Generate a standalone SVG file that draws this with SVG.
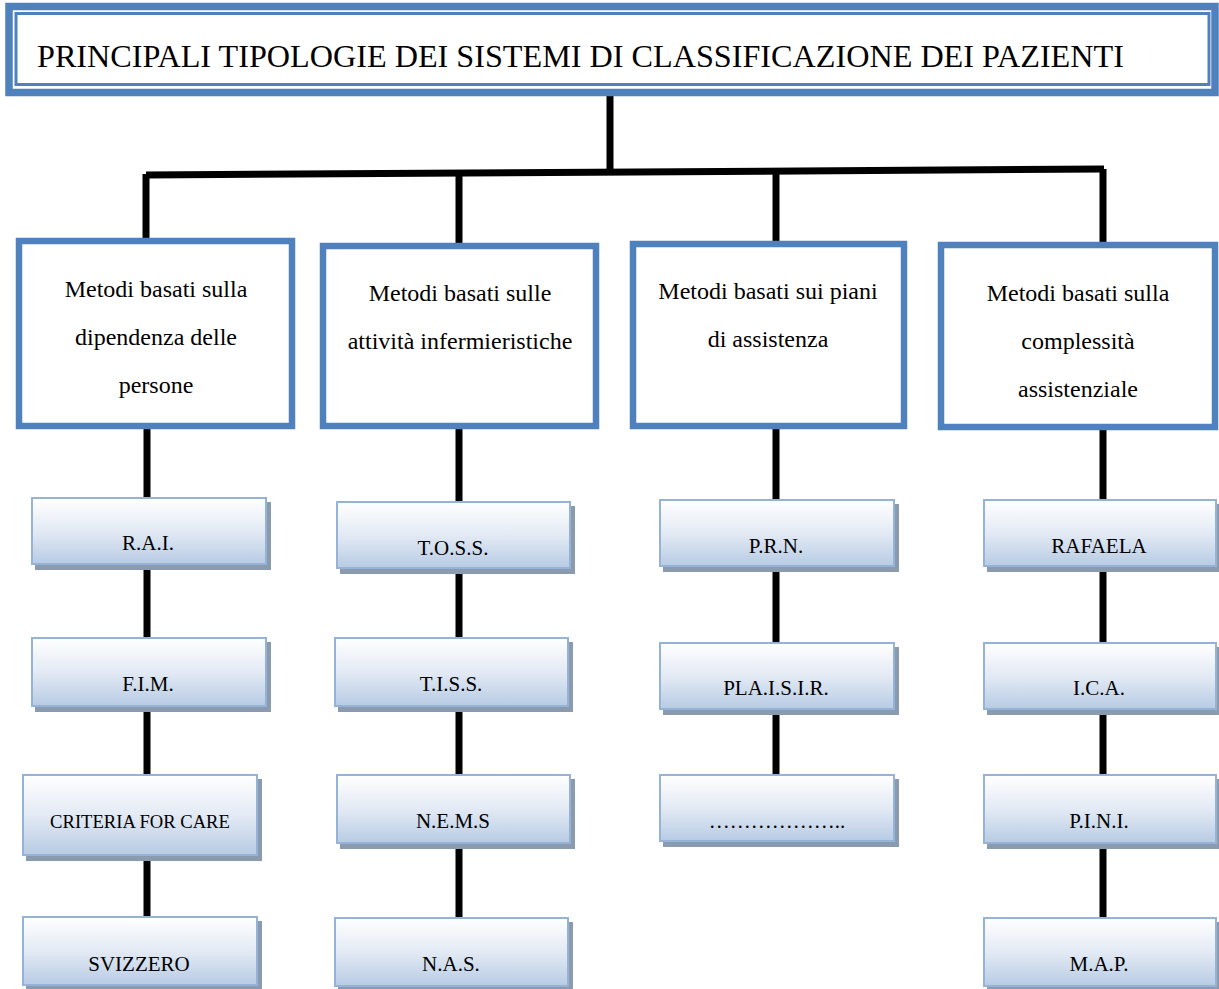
<svg xmlns="http://www.w3.org/2000/svg" width="1219" height="989" viewBox="0 0 1219 989">
  <defs>
    <linearGradient id="leafFill" x1="0" y1="0" x2="0" y2="1">
      <stop offset="0" stop-color="#FFFFFF"/>
      <stop offset="0.5" stop-color="#E3EAF4"/>
      <stop offset="1" stop-color="#B7CBE4"/>
    </linearGradient>
  </defs>
  <style>
    text { font-family: "Liberation Serif", "Times New Roman", serif; fill: #000; text-anchor: middle; }
    .title { font-size: 32.2px; text-anchor: start; }
    .cat-box { fill: #FFFFFF; stroke: #4F81BD; stroke-width: 6.5; }
    .cat-text { font-size: 24px; }
    .leaf-shadow { fill: #8A9AAF; }
    .leaf-box { fill: url(#leafFill); stroke: #95B3D7; stroke-width: 2; }
    .leaf-text { font-size: 21px; }
    .link { stroke: #000; stroke-width: 7; fill: none; }
  </style>

  <rect width="1219" height="989" fill="#FFFFFF"/>

  <!-- connectors (drawn first so the boxes sit on top) -->
  <g id="connectors">
    <line class="link" x1="610" y1="96" x2="610" y2="170"/>
    <line class="link" x1="146" y1="175" x2="1104" y2="169"/>
    <line class="link" x1="146" y1="174" x2="146" y2="242"/>
    <line class="link" x1="459" y1="172" x2="459" y2="245"/>
    <line class="link" x1="776" y1="171" x2="776" y2="243"/>
    <line class="link" x1="1103" y1="169" x2="1103" y2="243"/>
    <line class="link" x1="147" y1="428" x2="147" y2="918"/>
    <line class="link" x1="459" y1="428" x2="459" y2="918"/>
    <line class="link" x1="776" y1="428" x2="776" y2="776"/>
    <line class="link" x1="1103" y1="428" x2="1103" y2="918"/>
  </g>

  <!-- title -->
  <g id="title">
    <rect x="9" y="6.5" width="1206" height="86" fill="#FFFFFF" stroke="#4F81BD" stroke-width="7.5"/>
    <rect x="16" y="13.5" width="1193" height="71" fill="none" stroke="#4F81BD" stroke-width="3"/>
    <text class="title" x="37" y="67">PRINCIPALI TIPOLOGIE DEI SISTEMI DI CLASSIFICAZIONE DEI PAZIENTI</text>
  </g>

  <!-- method categories -->
  <g id="cat-dipendenza">
    <rect class="cat-box" x="19" y="241" width="273" height="185"/>
    <text class="cat-text" x="156" y="297">Metodi basati sulla</text>
    <text class="cat-text" x="156" y="345">dipendenza delle</text>
    <text class="cat-text" x="156" y="393">persone</text>
  </g>
  <g id="cat-attivita">
    <rect class="cat-box" x="323" y="246" width="273" height="180"/>
    <text class="cat-text" x="460" y="301">Metodi basati sulle</text>
    <text class="cat-text" x="460" y="349">attività infermieristiche</text>
  </g>
  <g id="cat-piani">
    <rect class="cat-box" x="633" y="244" width="271" height="182"/>
    <text class="cat-text" x="768" y="299">Metodi basati sui piani</text>
    <text class="cat-text" x="768" y="347">di assistenza</text>
  </g>
  <g id="cat-complessita">
    <rect class="cat-box" x="941" y="245" width="274" height="182"/>
    <text class="cat-text" x="1078" y="301">Metodi basati sulla</text>
    <text class="cat-text" x="1078" y="349">complessità</text>
    <text class="cat-text" x="1078" y="397">assistenziale</text>
  </g>

  <!-- column 1 -->
  <g id="rai">
    <rect class="leaf-shadow" x="35" y="502" width="236" height="68"/>
    <rect class="leaf-box" x="32" y="498" width="234" height="66"/>
    <text class="leaf-text" x="148" y="550">R.A.I.</text>
  </g>
  <g id="fim">
    <rect class="leaf-shadow" x="35" y="642" width="236" height="70"/>
    <rect class="leaf-box" x="32" y="638" width="234" height="68"/>
    <text class="leaf-text" x="148" y="691">F.I.M.</text>
  </g>
  <g id="criteria">
    <rect class="leaf-shadow" x="26" y="779" width="236" height="82"/>
    <rect class="leaf-box" x="23" y="775" width="234" height="80"/>
    <text class="leaf-text" x="140" y="828" style="font-size:18.6px">CRITERIA FOR CARE</text>
  </g>
  <g id="svizzero">
    <rect class="leaf-shadow" x="26" y="921" width="236" height="70"/>
    <rect class="leaf-box" x="23" y="917" width="234" height="68"/>
    <text class="leaf-text" x="139" y="971">SVIZZERO</text>
  </g>

  <!-- column 2 -->
  <g id="toss">
    <rect class="leaf-shadow" x="340" y="506" width="235" height="68"/>
    <rect class="leaf-box" x="337" y="502" width="233" height="66"/>
    <text class="leaf-text" x="453" y="555">T.O.S.S.</text>
  </g>
  <g id="tiss">
    <rect class="leaf-shadow" x="338" y="642" width="235" height="70"/>
    <rect class="leaf-box" x="335" y="638" width="233" height="68"/>
    <text class="leaf-text" x="451" y="691">T.I.S.S.</text>
  </g>
  <g id="nems">
    <rect class="leaf-shadow" x="340" y="779" width="235" height="70"/>
    <rect class="leaf-box" x="337" y="775" width="233" height="68"/>
    <text class="leaf-text" x="453" y="828">N.E.M.S</text>
  </g>
  <g id="nas">
    <rect class="leaf-shadow" x="338" y="922" width="235" height="70"/>
    <rect class="leaf-box" x="335" y="918" width="233" height="68"/>
    <text class="leaf-text" x="451" y="971">N.A.S.</text>
  </g>

  <!-- column 3 -->
  <g id="prn">
    <rect class="leaf-shadow" x="663" y="504" width="236" height="68"/>
    <rect class="leaf-box" x="660" y="500" width="234" height="66"/>
    <text class="leaf-text" x="776" y="553">P.R.N.</text>
  </g>
  <g id="plaisir">
    <rect class="leaf-shadow" x="663" y="647" width="236" height="68"/>
    <rect class="leaf-box" x="660" y="643" width="234" height="66"/>
    <text class="leaf-text" x="776" y="695">PLA.I.S.I.R.</text>
  </g>
  <g id="altro">
    <rect class="leaf-shadow" x="663" y="779" width="236" height="68"/>
    <rect class="leaf-box" x="660" y="775" width="234" height="66"/>
    <text class="leaf-text" x="777" y="828">………………..</text>
  </g>

  <!-- column 4 -->
  <g id="rafaela">
    <rect class="leaf-shadow" x="987" y="504" width="232" height="68"/>
    <rect class="leaf-box" x="984" y="500" width="232" height="66"/>
    <text class="leaf-text" x="1099" y="553">RAFAELA</text>
  </g>
  <g id="ica">
    <rect class="leaf-shadow" x="987" y="647" width="232" height="68"/>
    <rect class="leaf-box" x="984" y="643" width="232" height="66"/>
    <text class="leaf-text" x="1099" y="695">I.C.A.</text>
  </g>
  <g id="pini">
    <rect class="leaf-shadow" x="987" y="779" width="232" height="70"/>
    <rect class="leaf-box" x="984" y="775" width="232" height="68"/>
    <text class="leaf-text" x="1099" y="828">P.I.N.I.</text>
  </g>
  <g id="map">
    <rect class="leaf-shadow" x="987" y="922" width="232" height="70"/>
    <rect class="leaf-box" x="984" y="918" width="232" height="68"/>
    <text class="leaf-text" x="1099" y="971">M.A.P.</text>
  </g>
</svg>
